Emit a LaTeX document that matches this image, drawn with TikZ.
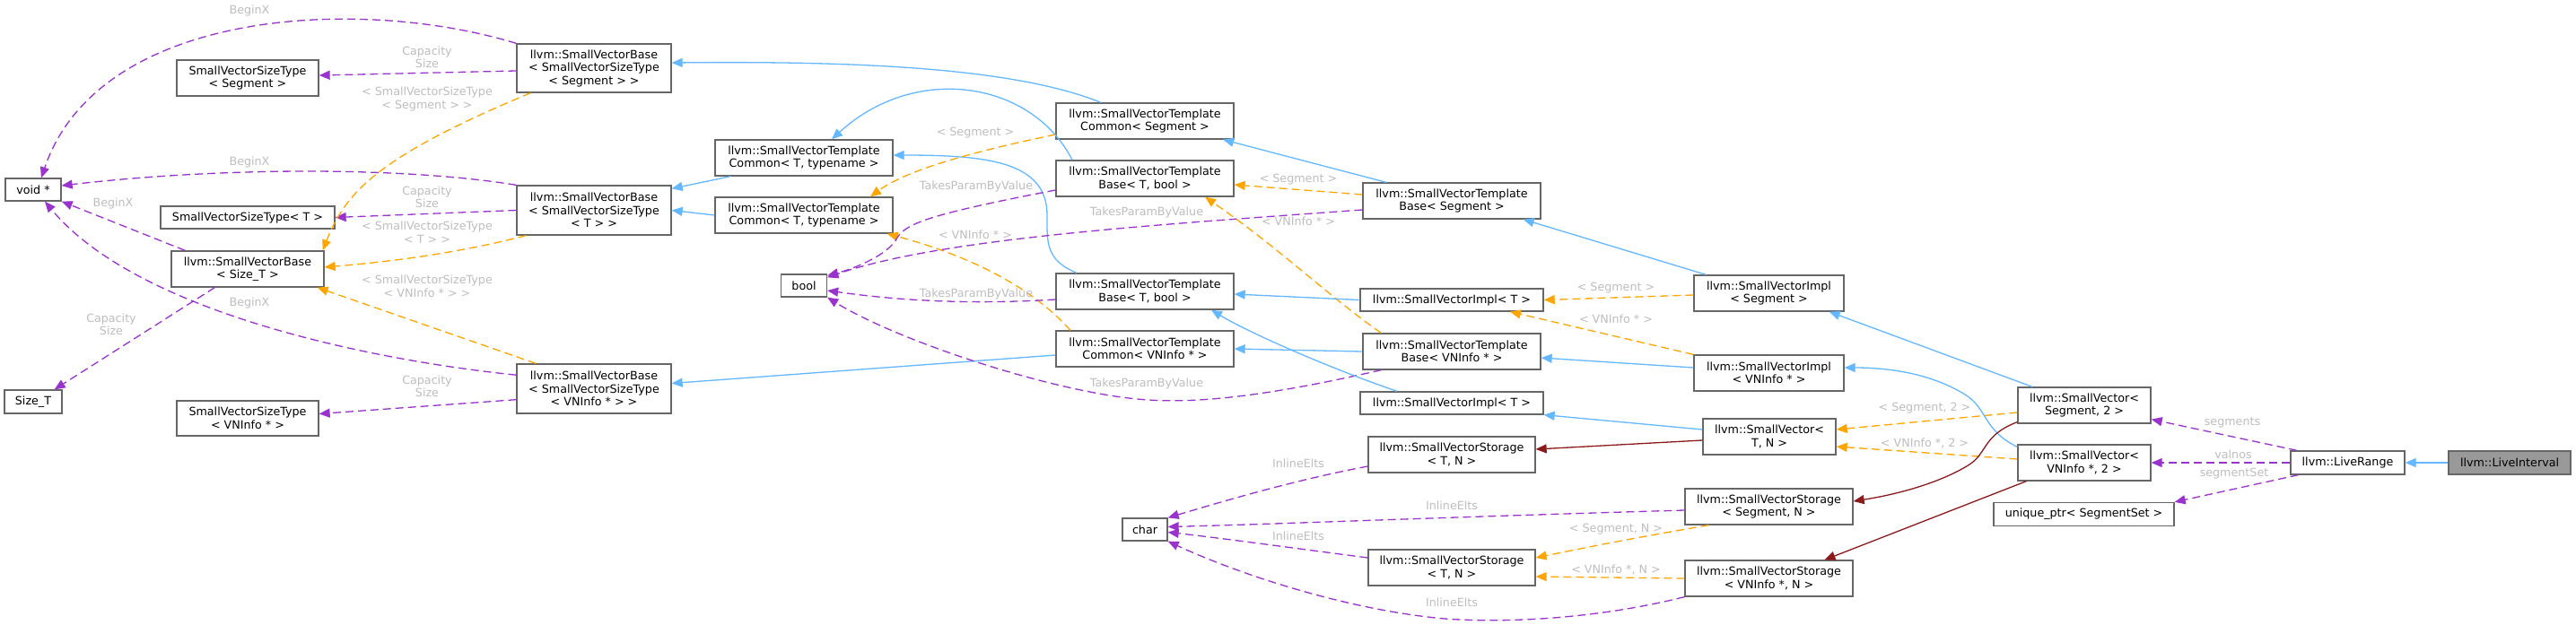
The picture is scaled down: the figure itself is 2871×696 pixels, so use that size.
\documentclass[tikz,border=0pt]{standalone}
\usepackage{fontspec}
\setmainfont{DejaVu Sans}
\usetikzlibrary{arrows.meta}
\definecolor{edgepurple}{HTML}{9A32CD}
\definecolor{edgeorange}{HTML}{FFA500}
\definecolor{edgeblue}{HTML}{63B8FF}
\definecolor{edgered}{HTML}{8B1A1A}
\definecolor{boxborder}{HTML}{666666}
\definecolor{lblgray}{HTML}{BEBEBE}
\definecolor{fillgray}{HTML}{999999}
\begin{document}
\begin{tikzpicture}[x=1pt,y=-1pt,
  font=\fontsize{12.7}{14.5}\selectfont,
  box/.style={draw=boxborder, line width=1.3pt, fill=white, inner sep=0pt, align=center, text=black},
  lbl/.style={text=lblgray, inner sep=0pt, align=center},
  edge/.style={line width=1.3pt, -{Triangle[length=12pt,width=10pt]}},
  purp/.style={edge, draw=edgepurple, fill=none, dash pattern=on 9pt off 5pt},
  orng/.style={edge, draw=edgeorange, dash pattern=on 9pt off 5pt},
  blu/.style={edge, draw=edgeblue},
  dred/.style={edge, draw=edgered}]
\fill[white] (0,0) rectangle (2871,696);
\useasboundingbox (0,0) rectangle (2871,696);

% nodes
\node[box, minimum width=62pt, minimum height=25pt] (voidp) at (37,211.5) {void *};
\node[box, minimum width=158pt, minimum height=40pt] (svstSeg) at (276,87) {SmallVectorSizeType\\< Segment >};
\node[box, minimum width=194pt, minimum height=25pt] (svstT) at (276,242.5) {SmallVectorSizeType< T >};
\node[box, minimum width=170pt, minimum height=40pt] (svbSizeT) at (276,300) {llvm::SmallVectorBase\\< Size\_T >};
\node[box, minimum width=64pt, minimum height=26pt] (sizeT) at (37,448) {Size\_T};
\node[box, minimum width=158pt, minimum height=39pt] (svstVN) at (276,466.5) {SmallVectorSizeType\\< VNInfo * >};
\node[box, minimum width=172pt, minimum height=54pt] (svbSeg) at (662,76) {llvm::SmallVectorBase\\< SmallVectorSizeType\\< Segment > >};
\node[box, minimum width=172pt, minimum height=55pt] (svbT) at (662,234.5) {llvm::SmallVectorBase\\< SmallVectorSizeType\\< T > >};
\node[box, minimum width=172pt, minimum height=55pt] (svbVN) at (662,433.5) {llvm::SmallVectorBase\\< SmallVectorSizeType\\< VNInfo * > >};
\node[box, minimum width=198pt, minimum height=40pt] (tcT1) at (896,176) {llvm::SmallVectorTemplate\\Common< T, typename >};
\node[box, minimum width=198pt, minimum height=40pt] (tcT2) at (896,240) {llvm::SmallVectorTemplate\\Common< T, typename >};
\node[box, minimum width=51pt, minimum height=25pt] (bool) at (896,318.5) {bool};
\node[box, minimum width=198pt, minimum height=40pt] (tcSeg) at (1276,135) {llvm::SmallVectorTemplate\\Common< Segment >};
\node[box, minimum width=198pt, minimum height=40pt] (tbT1) at (1276,199) {llvm::SmallVectorTemplate\\Base< T, bool >};
\node[box, minimum width=198pt, minimum height=40pt] (tbT2) at (1276,325) {llvm::SmallVectorTemplate\\Base< T, bool >};
\node[box, minimum width=198pt, minimum height=40pt] (tcVN) at (1276,389) {llvm::SmallVectorTemplate\\Common< VNInfo * >};
\node[box, minimum width=50pt, minimum height=25pt] (char) at (1276,590.5) {char};
\node[box, minimum width=198pt, minimum height=40pt] (tbSeg) at (1618,224) {llvm::SmallVectorTemplate\\Base< Segment >};
\node[box, minimum width=204pt, minimum height=25pt] (implT1) at (1618,334.5) {llvm::SmallVectorImpl< T >};
\node[box, minimum width=198pt, minimum height=40pt] (tbVN) at (1618,392) {llvm::SmallVectorTemplate\\Base< VNInfo * >};
\node[box, minimum width=204pt, minimum height=25pt] (implT2) at (1618,449.5) {llvm::SmallVectorImpl< T >};
\node[box, minimum width=186pt, minimum height=40pt] (stT1) at (1618,507) {llvm::SmallVectorStorage\\< T, N >};
\node[box, minimum width=186pt, minimum height=40pt] (stT2) at (1618,633) {llvm::SmallVectorStorage\\< T, N >};
\node[box, minimum width=167pt, minimum height=40pt] (implSeg) at (1971.5,327) {llvm::SmallVectorImpl\\< Segment >};
\node[box, minimum width=167pt, minimum height=40pt] (implVN) at (1971.5,416) {llvm::SmallVectorImpl\\< VNInfo * >};
\node[box, minimum width=148pt, minimum height=40pt] (svTN) at (1972,487) {llvm::SmallVector<\\T, N >};
\node[box, minimum width=187pt, minimum height=40pt] (stSeg) at (1971.5,565) {llvm::SmallVectorStorage\\< Segment, N >};
\node[box, minimum width=187pt, minimum height=40pt] (stVN) at (1971.5,645) {llvm::SmallVectorStorage\\< VNInfo *, N >};
\node[box, minimum width=148pt, minimum height=40pt] (svSeg2) at (2323,452) {llvm::SmallVector<\\Segment, 2 >};
\node[box, minimum width=148pt, minimum height=40pt] (svVN2) at (2323,516) {llvm::SmallVector<\\VNInfo *, 2 >};
\node[box, minimum width=201pt, minimum height=26pt] (uptr) at (2322.5,573.5) {unique\_ptr< SegmentSet >};
\node[box, minimum width=127pt, minimum height=26pt] (liveRange) at (2616.5,516) {llvm::LiveRange};
\node[box, fill=fillgray, minimum width=136pt, minimum height=26pt] (liveInt) at (2797,516) {llvm::LiveInterval};

% left group
\draw[purp] (svbSeg.north west) .. controls (400,-5) and (110,10) .. ([xshift=9pt]voidp.north);
\node[lbl] at (278,12) {BeginX};
\draw[purp] ([yshift=-3pt]svbSeg.west) -- ([yshift=3pt]svstSeg.east);
\node[lbl] at (476,64) {Capacity\\Size};
\draw[purp] (svbT.north west) .. controls (450,186) and (250,186) .. ([yshift=4.5pt]voidp.east);
\node[lbl] at (278,181) {BeginX};
\draw[purp] (svbT.west) -- (svstT.east);
\node[lbl] at (476,220) {Capacity\\Size};
\draw[purp] ([xshift=16pt]svbSizeT.north west) -- (voidp.south east);
\node[lbl] at (126,227) {BeginX};
\draw[purp] ([xshift=49pt]svbSizeT.south west) -- ([xshift=-9pt]sizeT.north east);
\node[lbl] at (124,362) {Capacity\\Size};
\draw[purp] (svbVN.170) .. controls (400,400) and (150,345) .. ([xshift=13pt]voidp.south);
\node[lbl] at (278,338) {BeginX};
\draw[purp] (svbVN.188) -- ([yshift=5pt]svstVN.east);
\node[lbl] at (476,431) {Capacity\\Size};

\draw[orng] ([xshift=16pt]svbSeg.south west) .. controls (420,175) and (385,215) .. ([xshift=-2pt]svbSizeT.north east);
\node[lbl] at (476,110.5) {< SmallVectorSizeType\\< Segment > >};
\draw[orng] ([xshift=11pt]svbT.south west) .. controls (500,285) and (420,293) .. ([yshift=2pt]svbSizeT.east);
\node[lbl] at (476,259) {< SmallVectorSizeType\\< T > >};
\draw[orng] ([xshift=22pt]svbVN.north west) -- ([xshift=-8pt]svbSizeT.south east);
\node[lbl] at (476,319.5) {< SmallVectorSizeType\\< VNInfo * > >};

% blue to bases
\draw[blu] ([xshift=-49pt]tcSeg.north) .. controls (1130,75) and (950,68) .. ([yshift=6pt]svbSeg.east);
\draw[blu] ([xshift=18pt]tcT1.south west) -- ([yshift=-4pt]svbT.north east);
\draw[blu] (tcT2.west) -- (svbT.east);
\draw[blu] ([yshift=-7pt]tcVN.west) -- ([yshift=6pt]svbVN.east);
\draw[blu] ([xshift=-81pt]tbT1.north) .. controls (1150,90) and (1020,70) .. ([xshift=31pt]tcT1.north);
\draw[blu] ([xshift=-76pt]tbT2.north) .. controls (1165,290) and (1167,270) .. (1167,240) .. controls (1167,180) and (1100,173) .. ([yshift=3pt]tcT1.east);

\draw[orng] ([yshift=-15pt]tcSeg.west) .. controls (1080,170) and (1010,190) .. ([xshift=74pt]tcT2.north);
\node[lbl] at (1087,148) {< Segment >};
\draw[orng] ([xshift=-83pt]tcVN.north) .. controls (1150,320) and (1080,285) .. ([xshift=-7pt]tcT2.south east);
\node[lbl] at (1087,262) {< VNInfo * >};

% TakesParamByValue
\draw[purp] ([yshift=-13pt]tbT1.west) .. controls (1030,240) and (1010,250) .. (1000,265) .. controls (990,285) and (950,300) .. ([yshift=-2pt]bool.north east);
\node[lbl] at (1088,208) {TakesParamByValue};
\draw[purp] ([yshift=-10pt]tbSeg.west) .. controls (1300,250) and (1050,265) .. ([yshift=-4pt]bool.north east);
\node[lbl] at (1278,237) {TakesParamByValue};
\draw[purp] ([yshift=-9pt]tbT2.west) .. controls (1080,340) and (1000,335) .. ([yshift=-5.5pt]bool.east);
\node[lbl] at (1088,328) {TakesParamByValue};
\draw[purp] ([xshift=21pt]tbVN.south west) .. controls (1420,440) and (1340,450) .. (1280,446) .. controls (1180,440) and (1000,380) .. (bool.south east);
\node[lbl] at (1278,428) {TakesParamByValue};

\draw[orng] ([yshift=7pt]tbSeg.west) -- ([yshift=-7pt]tbT1.east);
\node[lbl] at (1447,200) {< Segment >};
\draw[orng] ([xshift=21pt]tbVN.north west) .. controls (1480,330) and (1430,280) .. ([xshift=67pt]tbT1.south);
\node[lbl] at (1447,247) {< VNInfo * >};

\draw[blu] ([xshift=-73pt]tbSeg.north) -- ([xshift=87pt]tcSeg.south);
\draw[blu] (implT1.west) -- ([yshift=-3pt]tbT2.east);
\draw[blu] ([xshift=-61pt]implT2.north) .. controls (1480,410) and (1390,370) .. ([xshift=74pt]tbT2.south);
\draw[blu] (tbVN.west) -- (tcVN.east);
\draw[blu] ([xshift=-70pt]implSeg.north) -- ([xshift=-20pt]tbSeg.south east);

\draw[orng] ([yshift=-2pt]implSeg.west) -- (implT1.east);
\node[lbl] at (1801,321) {< Segment >};
\draw[orng] (implVN.north west) -- ([xshift=65pt]implT1.south);
\node[lbl] at (1801,356) {< VNInfo * >};
\draw[blu] ([yshift=6pt]implVN.west) -- ([yshift=-7pt]tbVN.east);
\draw[blu] ([yshift=8pt]svTN.west) -- (implT2.south east);
\draw[dred] ([yshift=-4pt]svTN.west) -- ([yshift=6pt]stT1.east);

% char
\draw[purp] ([yshift=-13pt]stT1.west) .. controls (1440,536) and (1360,560) .. (char.north east);
\node[lbl] at (1447,517) {InlineElts};
\draw[purp] ([yshift=-4pt]stSeg.west) .. controls (1600,577) and (1440,584) .. ([yshift=3pt]char.east);
\node[lbl] at (1618,564) {InlineElts};
\draw[purp] ([yshift=11pt]stT2.west) .. controls (1440,611) and (1360,600) .. ([yshift=-3pt]char.east);
\node[lbl] at (1447,598) {InlineElts};
\draw[purp] (stVN.south west) .. controls (1780,690) and (1680,695) .. (1610,690) .. controls (1500,680) and (1380,640) .. (char.south east);
\node[lbl] at (1618,672) {InlineElts};

\draw[orng] ([xshift=27pt]stSeg.south west) .. controls (1820,600) and (1760,612) .. ([yshift=11pt]stT2.east);
\node[lbl] at (1801,590) {< Segment, N >};
\draw[orng] (stVN.west) -- ([yshift=-10pt]stT2.east);
\node[lbl] at (1801,635) {< VNInfo *, N >};

% SmallVector
\draw[orng] ([yshift=-8pt]svSeg2.west) -- ([yshift=8pt]svTN.east);
\node[lbl] at (2145,455) {< Segment, 2 >};
\draw[orng] ([yshift=4pt]svVN2.west) -- ([yshift=-11pt]svTN.east);
\node[lbl] at (2145,494) {< VNInfo *, 2 >};
\draw[blu] ([xshift=-58pt]svSeg2.north) -- ([xshift=-17pt]implSeg.south east);
\draw[blu] ([yshift=-3pt]svVN2.north west) .. controls (2210,480) and (2215,455) .. (2190,440) .. controls (2150,415) and (2100,410) .. ([yshift=6pt]implVN.east);
\draw[dred] ([yshift=2pt]svSeg2.south west) .. controls (2210,485) and (2215,505) .. (2195,518) .. controls (2160,540) and (2110,552) .. ([yshift=6pt]stSeg.east);
\draw[dred] ([xshift=10pt]svVN2.south west) -- ([xshift=62pt]stVN.north);

% LiveRange
\draw[purp] ([xshift=-56.5pt]liveRange.north) -- ([yshift=5pt]svSeg2.south east);
\node[lbl] at (2488,471) {segments};
\draw[purp] (liveRange.west) -- (svVN2.east);
\node[lbl] at (2489,507) {valnos};
\draw[purp] ([xshift=-55pt]liveRange.south) -- (uptr.north east);
\node[lbl] at (2490,528) {segmentSet};
\draw[blu] (liveInt.west) -- (liveRange.east);
\end{tikzpicture}
\end{document}
